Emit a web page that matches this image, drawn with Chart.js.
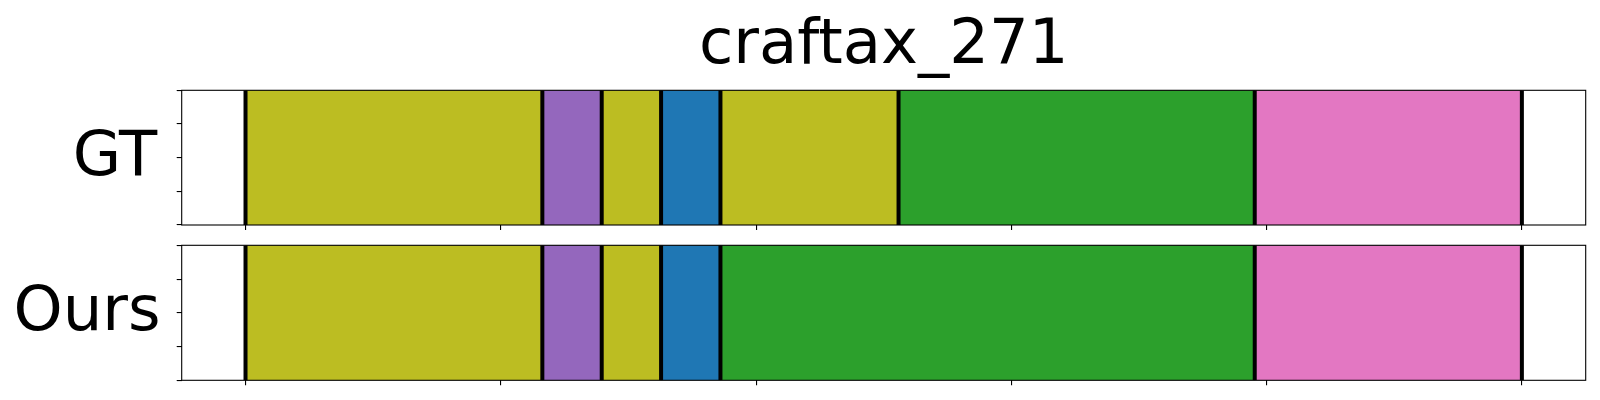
<!DOCTYPE html>
<html><head><meta charset="utf-8">
<script src="https://cdn.jsdelivr.net/npm/chart.js@4/dist/chart.umd.min.js"></script>
<style>
html,body{margin:0;padding:0;background:#fff;}
#wrap{position:relative;width:1600px;height:400px;background:#fff;}
canvas{position:absolute;left:0;top:0;}
</style>
</head><body>
<div id="wrap"><canvas id="c1" width="1600" height="400"></canvas><canvas id="c2" width="1600" height="400"></canvas></div>
<script>
// ---- data ----
const chartTitle = 'craftax_271';
const rowLabels = ['GT', 'Ours'];
const totalFrames = 43;
const xTickValues = [0, 8.6, 17.2, 25.8, 34.4, 43];
const yTickValues = [0, 0.25, 0.5, 0.75, 1];
const gtBoundaries = [0, 10, 12, 14, 16, 22, 34, 43];
const gtClasses = [8, 4, 8, 0, 8, 2, 6];
const oursBoundaries = [0, 10, 12, 14, 16, 34, 43];
const oursClasses = [8, 4, 8, 0, 2, 6];
const tab10 = ['#1f77b4','#ff7f0e','#2ca02c','#d62728','#9467bd','#8c564b','#e377c2','#7f7f7f','#bcbd22','#17becf'];

const FONT = '"DejaVu Sans", "Liberation Sans", sans-serif';

const textPlugin = {
  id: 'texts',
  afterDraw(chart, args, opts) {
    const ctx = chart.ctx, a = chart.chartArea;
    ctx.save();
    ctx.fillStyle = '#000';
    ctx.font = '62.5px ' + FONT;
    ctx.textBaseline = 'alphabetic';
    ctx.textAlign = 'left';
    const m = ctx.measureText(opts.label);
    const inkRight = a.left - 23.7;
    ctx.fillText(opts.label, inkRight - m.actualBoundingBoxRight, (a.top + a.bottom) / 2 + 17);
    if (opts.title) {
      ctx.textAlign = 'center';
      ctx.fillText(opts.title, (a.left + a.right) / 2, 63);
    }
    ctx.restore();
  }
};
const framePlugin = {
  id: 'frame',
  afterDatasetsDraw(chart) {
    const ctx = chart.ctx, a = chart.chartArea;
    ctx.save();
    ctx.strokeStyle = '#000';
    ctx.lineWidth = 1.1;
    ctx.strokeRect(a.left, a.top, a.right - a.left, a.bottom - a.top);
    ctx.restore();
  }
};

function makeChart(id, label, boundaries, classes, padTop, padBottom, title) {
  const bars = classes.map((c, i) => ({
    type: 'bar',
    label: 'seg' + i,
    data: [[boundaries[i], boundaries[i + 1]]],
    backgroundColor: tab10[c],
    borderWidth: 0,
    indexAxis: 'y',
    xAxisID: 'x', yAxisID: 'y',
    grouped: false,
    barPercentage: 1, categoryPercentage: 1,
    order: 1
  }));
  const lines = boundaries.map(b => ({
    type: 'line',
    data: [{x: b, y: 0}, {x: b, y: 1}],
    xAxisID: 'x', yAxisID: 'y2',
    borderColor: '#000', borderWidth: 4,
    pointRadius: 0, fill: false, tension: 0,
    order: 0
  }));
  const margin = totalFrames * 0.05;
  return new Chart(document.getElementById(id), {
    type: 'bar',
    data: { labels: [label], datasets: [...bars, ...lines] },
    options: {
      indexAxis: 'y',
      responsive: false, animation: false,
      devicePixelRatio: 1,
      layout: { padding: { left: 175.7, right: 14.3, top: padTop, bottom: padBottom } },
      plugins: {
        legend: { display: false }, tooltip: { enabled: false }, title: { display: false },
        texts: { label: label, title: title }
      },
      scales: {
        x: {
          type: 'linear', position: 'bottom', min: -margin, max: totalFrames + margin,
          offset: false,
          afterBuildTicks: s => { s.ticks = xTickValues.map(v => ({value: v})); },
          ticks: { display: false },
          grid: { offset: false, drawOnChartArea: false, drawTicks: true, tickLength: 5, color: '#000', lineWidth: 1.1 },
          border: { display: false },
          afterFit: s => { s.height = 6; }
        },
        y: { type: 'category', display: false, offset: true },
        y2: {
          type: 'linear', position: 'left', min: 0, max: 1,
          offset: false,
          afterBuildTicks: s => { s.ticks = yTickValues.map(v => ({value: v})); },
          ticks: { display: false },
          grid: { offset: false, drawOnChartArea: false, drawTicks: true, tickLength: 5, color: '#000', lineWidth: 1.1 },
          border: { display: false },
          afterFit: s => { s.width = 6; }
        }
      }
    },
    plugins: [textPlugin, framePlugin]
  });
}

makeChart('c1', rowLabels[0], gtBoundaries, gtClasses, 90.3, 169, chartTitle);
makeChart('c2', rowLabels[1], oursBoundaries, oursClasses, 245.3, 13.7, null);
</script>
</body></html>
